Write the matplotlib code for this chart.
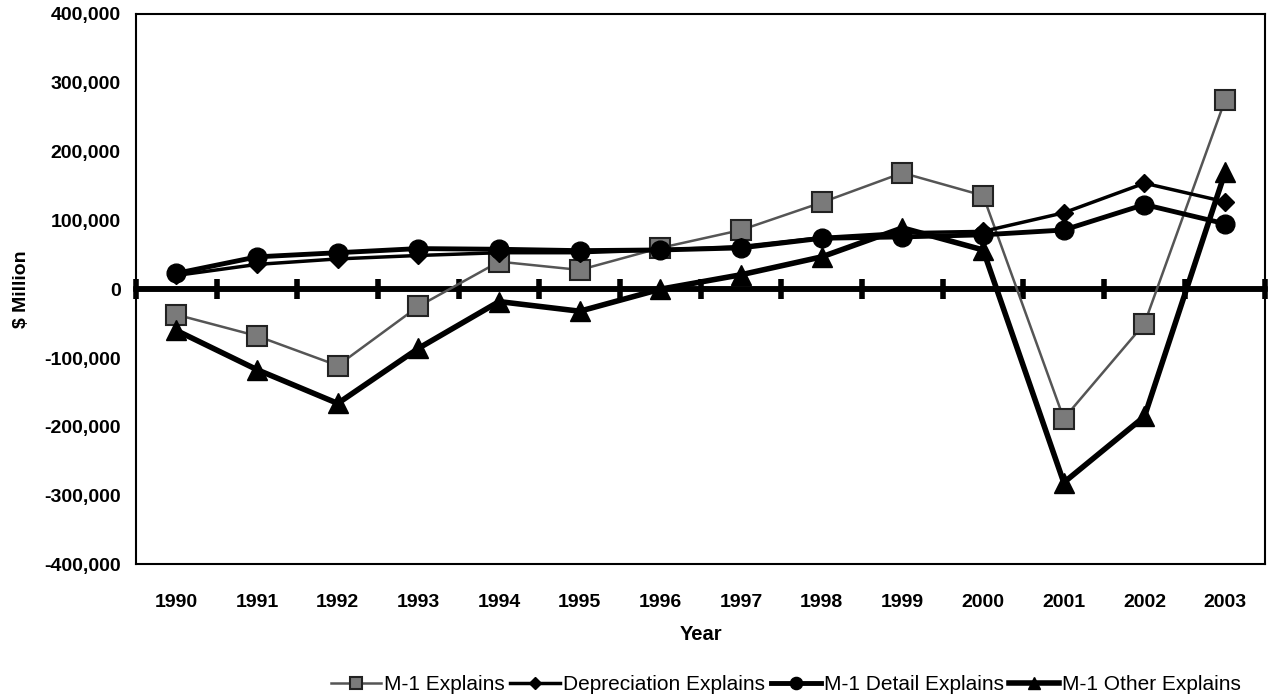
import matplotlib
matplotlib.use("Agg")
import matplotlib.pyplot as plt
import numpy as np
from matplotlib.ticker import FuncFormatter

plt.rcParams['font.family'] = ['Liberation Sans', 'DejaVu Sans']

years = ["1990", "1991", "1992", "1993", "1994", "1995", "1996",
         "1997", "1998", "1999", "2000", "2001", "2002", "2003"]
m1_explains = [-37000, -68000, -111000, -25000, 40000, 28000, 60000,
               86000, 126000, 169000, 136000, -188000, -50000, 275000]
depreciation_explains = [20000, 36000, 44000, 49000, 53000, 53000, 57000,
                         62000, 75000, 82000, 84000, 111000, 154000, 127000]
m1_detail_explains = [23000, 47000, 53000, 59000, 58000, 56000, 57000,
                      60000, 74000, 76000, 79000, 86000, 123000, 95000]
m1_other_explains = [-60000, -117000, -166000, -86000, -18000, -32000, 0,
                     21000, 47000, 89000, 57000, -281000, -185000, 170000]

x = np.arange(len(years))

fig = plt.figure(figsize=(12.68, 6.96), dpi=100)
ax = fig.add_axes([0.1073, 0.189, 0.8907, 0.791])

ax.plot(x, m1_explains, color='#555555', lw=1.8, marker='s', ms=14,
        mfc='#7a7a7a', mec='#222222', mew=1.5, label='M-1 Explains', zorder=3)
ax.plot(x, depreciation_explains, color='black', lw=2.5, marker='D', ms=9.5,
        mfc='black', mec='black', label='Depreciation Explains', zorder=4)
ax.plot(x, m1_detail_explains, color='black', lw=3.5, marker='o', ms=13.5,
        mfc='black', mec='black', label='M-1 Detail Explains', zorder=5)
ax.plot(x, m1_other_explains, color='black', lw=4, marker='^', ms=14,
        mfc='black', mec='black', label='M-1 Other Explains', zorder=6)

ax.set_xlim(-0.5, len(years) - 0.5)
ax.set_ylim(-400000, 400000)
ax.set_yticks(np.arange(-400000, 400001, 100000))
ax.yaxis.set_major_formatter(FuncFormatter(lambda v, p: f"{int(v):,}"))
ax.set_xticks(x)
ax.set_xticklabels(years)
ax.tick_params(axis='x', length=0, pad=21, labelsize=14)
ax.tick_params(axis='y', length=0, pad=11, labelsize=14)
for lbl in ax.get_xticklabels() + ax.get_yticklabels():
    lbl.set_fontweight('bold')

for s in ax.spines.values():
    s.set_linewidth(1.5)
    s.set_color('black')

# zero axis with category-boundary ticks
ax.axhline(0, color='black', lw=4, zorder=2)
sec = ax.secondary_xaxis(0.5)
sec.set_xticks(np.arange(-0.5, len(years), 1.0))
sec.set_xticklabels([])
sec.tick_params(axis='x', direction='inout', length=15, width=4, color='black')
for s in sec.spines.values():
    s.set_linewidth(4)

ax.set_xlabel('Year', fontsize=14.5, fontweight='bold', labelpad=10)
ax.set_ylabel('$ Million', fontsize=14, fontweight='bold')
ax.yaxis.set_label_coords(-0.094, 0.5)

leg = fig.legend(loc='lower center', bbox_to_anchor=(0.62, -0.024), ncol=4,
                 frameon=False, fontsize=15, handlelength=2.4,
                 columnspacing=0.25, handletextpad=0.15, markerscale=0.65)

fig.savefig('out.png', dpi=100)
